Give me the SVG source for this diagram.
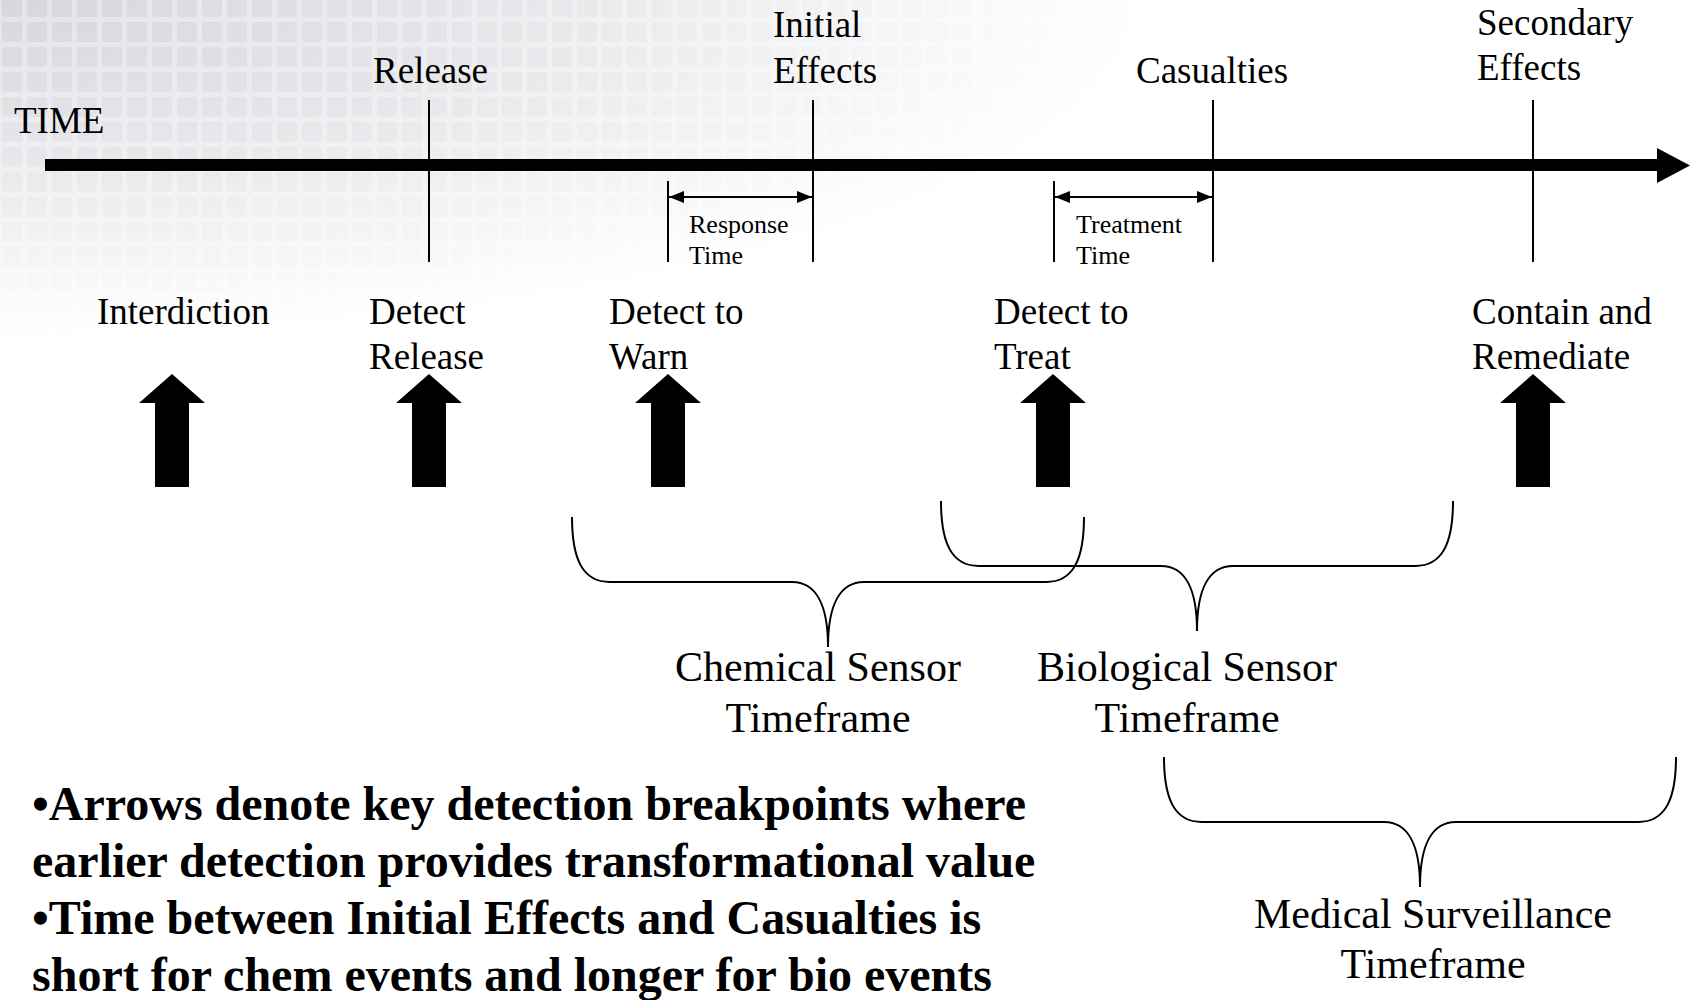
<svg xmlns="http://www.w3.org/2000/svg" width="1690" height="1000" viewBox="0 0 1690 1000">
<defs>
<style>
.lbl{font-family:"Liberation Serif","Times New Roman",serif;font-size:37px;fill:#000}
.sm{font-family:"Liberation Serif","Times New Roman",serif;font-size:26px;fill:#000}
.big{font-family:"Liberation Serif","Times New Roman",serif;font-size:42px;fill:#000;text-anchor:middle}
.note{font-family:"Liberation Serif","Times New Roman",serif;font-size:48px;font-weight:bold;fill:#000}
.tick{stroke:#000;stroke-width:2;fill:none}
.brace{stroke:#000;stroke-width:2;fill:none}
.blk{fill:#000}
</style>
<pattern id="grid" x="0" y="-5" width="25" height="25" patternUnits="userSpaceOnUse">
<rect x="0" y="0" width="25" height="25" fill="#e3e4e8"/>
<rect x="2" y="2" width="20" height="20" rx="2" fill="#d6d7dc"/>
</pattern>
<radialGradient id="fade" gradientUnits="userSpaceOnUse" cx="0" cy="0" r="1" gradientTransform="scale(1150,340)">
<stop offset="0" stop-color="#fff" stop-opacity="1"/>
<stop offset="0.45" stop-color="#fff" stop-opacity="0.6"/>
<stop offset="1" stop-color="#fff" stop-opacity="0"/>
</radialGradient>
<mask id="m">
<rect width="1690" height="1000" fill="url(#fade)"/>
</mask>
<path id="br" d="M0,0 C0,43 11,65 38,65 L220,65 C244,65 256,88 256,130 C256,88 268,65 292,65 L474,65 C501,65 512,43 512,0"/>
<marker id="ah" viewBox="0 0 15 12" refX="15" refY="6" markerWidth="15" markerHeight="12" markerUnits="userSpaceOnUse" orient="auto-start-reverse">
<path d="M0,0 L15,6 L0,12 Z" fill="#000"/>
</marker>
</defs>
<rect width="1690" height="1000" fill="#fff"/>
<rect width="1690" height="1000" fill="url(#grid)" mask="url(#m)"/>

<g id="connectors">
<line x1="45" y1="165" x2="1660" y2="165" stroke="#000" stroke-width="12"/>
<polygon points="1657,148 1690,165.5 1657,183" fill="#000"/>
<line class="tick" x1="429" y1="100" x2="429" y2="262"/>
<line class="tick" x1="813" y1="100" x2="813" y2="262"/>
<line class="tick" x1="1213" y1="100" x2="1213" y2="262"/>
<line class="tick" x1="1533" y1="100" x2="1533" y2="262"/>
<line class="tick" x1="668" y1="181" x2="668" y2="262"/>
<line class="tick" x1="1054" y1="181" x2="1054" y2="262"/>
<line x1="669" y1="197" x2="812" y2="197" stroke="#000" stroke-width="2" marker-start="url(#ah)" marker-end="url(#ah)"/>
<line x1="1055" y1="197" x2="1212" y2="197" stroke="#000" stroke-width="2" marker-start="url(#ah)" marker-end="url(#ah)"/>
</g>

<g id="time-label"><text class="lbl" x="14" y="133">TIME</text></g>
<g id="release"><text class="lbl" x="373" y="83">Release</text></g>
<g id="initial-effects"><text class="lbl" x="773" y="37">Initial</text><text class="lbl" x="773" y="83">Effects</text></g>
<g id="casualties"><text class="lbl" x="1136" y="83">Casualties</text></g>
<g id="secondary-effects"><text class="lbl" x="1477" y="35">Secondary</text><text class="lbl" x="1477" y="80">Effects</text></g>

<g id="response-time"><text class="sm" x="689" y="233">Response</text><text class="sm" x="689" y="264">Time</text></g>
<g id="treatment-time"><text class="sm" x="1076" y="233">Treatment</text><text class="sm" x="1076" y="264">Time</text></g>

<g id="interdiction">
<text class="lbl" x="97" y="324">Interdiction</text>
<polygon class="blk" points="172,374 205,403 189,403 189,487 155,487 155,403 139,403"/>
</g>
<g id="detect-release">
<text class="lbl" x="369" y="324">Detect</text><text class="lbl" x="369" y="369">Release</text>
<polygon class="blk" points="429,374 462,403 446,403 446,487 412,487 412,403 396,403"/>
</g>
<g id="detect-warn">
<text class="lbl" x="609" y="324">Detect to</text><text class="lbl" x="609" y="369">Warn</text>
<polygon class="blk" points="668,374 701,403 685,403 685,487 651,487 651,403 635,403"/>
</g>
<g id="detect-treat">
<text class="lbl" x="994" y="324">Detect to</text><text class="lbl" x="994" y="369">Treat</text>
<polygon class="blk" points="1053,374 1086,403 1070,403 1070,487 1036,487 1036,403 1020,403"/>
</g>
<g id="contain-remediate">
<text class="lbl" x="1472" y="324">Contain and</text><text class="lbl" x="1472" y="369">Remediate</text>
<polygon class="blk" points="1533,374 1566,403 1550,403 1550,487 1516,487 1516,403 1500,403"/>
</g>

<g id="chemical-timeframe">
<use href="#br" class="brace" transform="translate(572,517)"/>
<text class="big" x="818" y="681">Chemical Sensor</text><text class="big" x="818" y="732">Timeframe</text>
</g>
<g id="biological-timeframe">
<use href="#br" class="brace" transform="translate(941,501)"/>
<text class="big" x="1187" y="681">Biological Sensor</text><text class="big" x="1187" y="732">Timeframe</text>
</g>
<g id="medical-timeframe">
<use href="#br" class="brace" transform="translate(1164,757)"/>
<text class="big" x="1433" y="928">Medical Surveillance</text><text class="big" x="1433" y="978">Timeframe</text>
</g>

<g id="notes">
<text class="note" x="32" y="820">•Arrows denote key detection breakpoints where</text>
<text class="note" x="32" y="877">earlier detection provides transformational value</text>
<text class="note" x="32" y="934">•Time between Initial Effects and Casualties is</text>
<text class="note" x="32" y="991">short for chem events and longer for bio events</text>
</g>
</svg>
